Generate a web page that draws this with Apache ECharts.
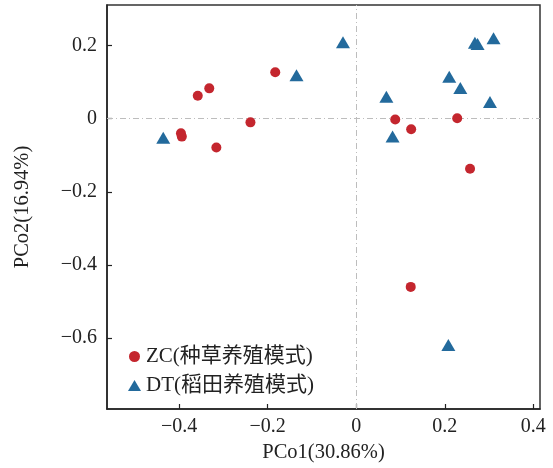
<!DOCTYPE html>
<html>
<head>
<meta charset="utf-8">
<script src="https://cdn.jsdelivr.net/npm/echarts@6/dist/echarts.min.js"></script>
<style>html,body{margin:0;padding:0;background:#fff;}#c{width:553px;height:468px;}</style>
</head>
<body>
<div id="c"></div>
<script>
// ZC (种草养殖模式) points: [PCo1, PCo2]
const zcX = [-0.183, -0.332, -0.358, -0.239, -0.396, -0.394, -0.316, 0.088, 0.124, 0.228, 0.257, 0.123];
const zcY = [0.127, 0.083, 0.063, -0.010, -0.040, -0.049, -0.079, -0.002, -0.029, 0.001, -0.137, -0.460];
// DT (稻田养殖模式) points
const dtX = [-0.436, -0.030, -0.135, 0.068, 0.082, 0.268, 0.274, 0.310, 0.210, 0.235, 0.302, 0.208];
const dtY = [-0.052, 0.209, 0.119, 0.060, -0.049, 0.208, 0.204, 0.220, 0.115, 0.084, 0.046, -0.619];
const seriesNames = ['ZC(种草养殖模式)', 'DT(稻田养殖模式)'];
const xTicks = [-0.4, -0.2, 0, 0.2, 0.4];
const yTicks = [-0.6, -0.4, -0.2, 0, 0.2];
const xName = 'PCo1(30.86%)';
const yName = 'PCo2(16.94%)';

const font = '"Liberation Serif", "Noto Sans CJK SC", serif';
const fmt = v => {
  const r = Math.round(v * 10) / 10;
  if (r === 0) return '0';
  return (r < 0 ? '\u2212' : '') + Math.abs(r).toString();
};
const zip = (a, b) => a.map((v, i) => [v, b[i]]);

const chart = echarts.init(document.getElementById('c'), null, {renderer: 'canvas'});
const axisCommon = {
  type: 'value',
  nameLocation: 'middle',
  nameTextStyle: {fontFamily: font, fontSize: 20.5, color: '#222'},
  axisLine: {show: true, onZero: false, lineStyle: {color: '#222', width: 1.5}},
  axisTick: {show: true, inside: true, length: 5, lineStyle: {color: '#222', width: 1.2}},
  axisLabel: {fontFamily: font, fontSize: 20, color: '#222', formatter: fmt},
  splitLine: {show: false}
};
chart.setOption({
  animation: false,
  backgroundColor: '#fff',
  grid: {left: 107, top: 5, right: 13, bottom: 59, show: true, borderColor: '#333', borderWidth: 1.5},
  xAxis: Object.assign({}, axisCommon, {
    min: -0.563, max: 0.415, name: xName, nameGap: 32,
    axisTick: Object.assign({}, axisCommon.axisTick, {customValues: xTicks}),
    axisLabel: Object.assign({}, axisCommon.axisLabel, {customValues: xTicks, margin: 8})
  }),
  yAxis: Object.assign({}, axisCommon, {
    min: -0.794, max: 0.311, name: yName, nameGap: 74,
    axisTick: Object.assign({}, axisCommon.axisTick, {customValues: yTicks}),
    axisLabel: Object.assign({}, axisCommon.axisLabel, {customValues: yTicks, margin: 10})
  }),
  legend: {
    orient: 'vertical', left: 123, top: 341,
    itemWidth: 13, itemHeight: 11, itemGap: 8, itemTextGap: 10,
    textStyle: {fontFamily: font, fontSize: 21, color: '#222', lineHeight: 20},
    data: [{name: seriesNames[0], icon: 'circle'}, {name: seriesNames[1], icon: 'triangle'}]
  },
  series: [
    {
      name: seriesNames[0], type: 'scatter', symbol: 'circle', symbolSize: 10,
      itemStyle: {color: '#c4262e', opacity: 1},
      data: zip(zcX, zcY), z: 3,
      markLine: {
        silent: true, symbol: 'none', label: {show: false},
        lineStyle: {color: '#bdbdbd', width: 1, type: [6, 3, 1, 3]},
        emphasis: {disabled: true},
        data: [{xAxis: 0}, {yAxis: 0}], z: 1
      }
    },
    {
      name: seriesNames[1], type: 'scatter', symbol: 'triangle', symbolSize: [14, 12],
      itemStyle: {color: '#236a9c', opacity: 1},
      data: zip(dtX, dtY), z: 3
    }
  ]
});
</script>
</body>
</html>
